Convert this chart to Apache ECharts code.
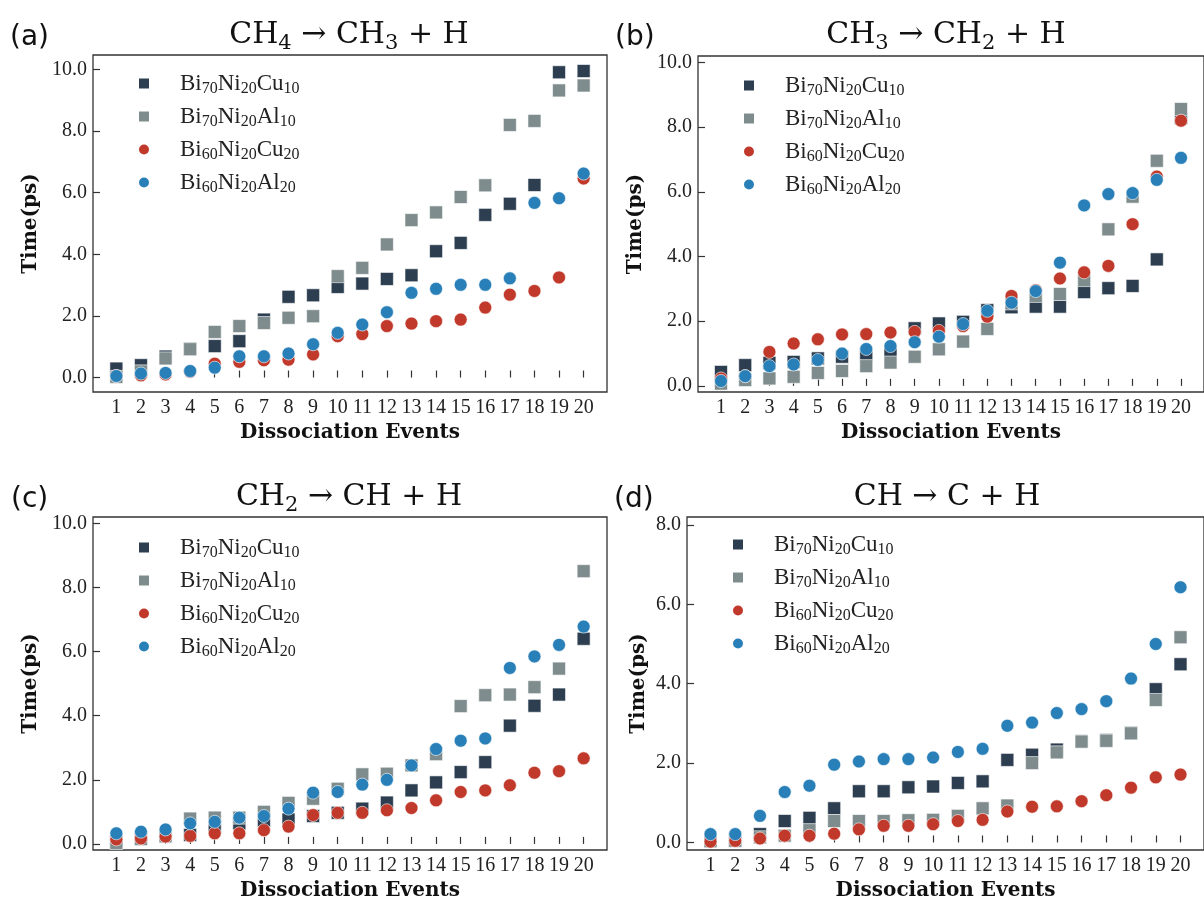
<!DOCTYPE html>
<html><head><meta charset="utf-8">
<script src="https://cdn.jsdelivr.net/npm/echarts@6/dist/echarts.min.js"></script>
<style>html,body{margin:0;padding:0;background:#fff}#c{width:1204px;height:902px}</style>
</head><body><div id="c"></div>
<script>
// ---- data ----
const events = [1,2,3,4,5,6,7,8,9,10,11,12,13,14,15,16,17,18,19,20];
const seriesNames = ['Bi70Ni20Cu10','Bi70Ni20Al10','Bi60Ni20Cu20','Bi60Ni20Al20'];
const panelLabels = ['(a)','(b)','(c)','(d)'];
const panelTitles = ['CH4 → CH3 + H','CH3 → CH2 + H','CH2 → CH + H','CH → C + H'];
const yTicksA = [0,2,4,6,8,10];
const yTicksB = [0,2,4,6,8,10];
const yTicksC = [0,2,4,6,8,10];
const yTicksD = [0,2,4,6,8];

const a_cu10 = [0.29,0.40,0.68,0.93,1.02,1.18,1.88,2.62,2.67,2.94,3.05,3.20,3.32,4.10,4.37,5.28,5.64,6.25,9.91,9.95];
const a_al10 = [0.02,0.20,0.62,0.92,1.48,1.67,1.77,1.94,1.99,3.29,3.56,4.32,5.11,5.36,5.86,6.24,8.20,8.33,9.32,9.48];
const a_cu20 = [0.05,0.07,0.10,0.19,0.45,0.51,0.56,0.58,0.75,1.34,1.41,1.67,1.75,1.83,1.88,2.27,2.69,2.81,3.25,6.46];
const a_al20 = [0.05,0.13,0.15,0.21,0.32,0.69,0.69,0.78,1.08,1.45,1.72,2.12,2.75,2.88,3.01,3.01,3.22,5.67,5.82,6.62];

const b_cu10 = [0.43,0.64,0.71,0.74,0.85,0.90,0.95,1.05,1.78,1.93,1.98,2.34,2.43,2.45,2.45,2.90,3.02,3.09,3.91,8.28];
const b_al10 = [0.07,0.18,0.23,0.28,0.40,0.46,0.61,0.72,0.90,1.13,1.37,1.76,2.55,2.78,2.84,3.27,4.84,5.85,6.96,8.56];
const b_cu20 = [0.23,0.30,1.05,1.31,1.44,1.59,1.60,1.65,1.67,1.70,1.85,2.14,2.78,2.96,3.32,3.51,3.71,5.00,6.47,8.20];
const b_al20 = [0.15,0.30,0.61,0.66,0.80,1.00,1.14,1.23,1.35,1.52,1.91,2.32,2.57,2.93,3.81,5.58,5.93,5.96,6.37,7.05];

const c_cu10 = [0.08,0.20,0.23,0.28,0.54,0.64,0.74,0.76,0.87,0.97,1.10,1.29,1.67,1.92,2.24,2.55,3.69,4.31,4.66,6.40];
const c_al10 = [0.03,0.15,0.25,0.79,0.82,0.82,1.00,1.28,1.41,1.72,2.17,2.19,2.45,2.80,4.30,4.64,4.66,4.89,5.47,8.51];
const c_cu20 = [0.14,0.17,0.23,0.25,0.33,0.33,0.43,0.54,0.90,0.97,0.97,1.05,1.12,1.36,1.62,1.67,1.83,2.22,2.27,2.67];
const c_al20 = [0.33,0.38,0.45,0.64,0.69,0.82,0.87,1.10,1.60,1.62,1.85,2.00,2.45,2.96,3.22,3.29,5.49,5.85,6.21,6.78];

const d_cu10 = [0.05,0.06,0.21,0.54,0.62,0.86,1.29,1.29,1.39,1.41,1.50,1.54,2.08,2.21,2.34,2.55,2.58,2.76,3.86,4.49];
const d_al10 = [0.03,0.04,0.13,0.17,0.31,0.54,0.54,0.54,0.56,0.57,0.67,0.86,0.93,2.00,2.27,2.54,2.56,2.75,3.59,5.17];
const d_cu20 = [0.02,0.04,0.10,0.17,0.17,0.22,0.33,0.42,0.42,0.46,0.54,0.57,0.78,0.90,0.91,1.04,1.19,1.38,1.64,1.71];
const d_al20 = [0.21,0.21,0.67,1.27,1.43,1.96,2.04,2.10,2.10,2.14,2.28,2.36,2.94,3.02,3.26,3.36,3.56,4.13,5.00,6.43];

// ---- styling / layout ----
const panelsData = [[a_cu10,a_al10,a_cu20,a_al20],[b_cu10,b_al10,b_cu20,b_al20],[c_cu10,c_al10,c_cu20,c_al20],[d_cu10,d_al10,d_cu20,d_al20]];
const yTicksAll = [yTicksA,yTicksB,yTicksC,yTicksD];
const colors = ['#2c3e50','#7f8c8d','#c0392b','#2980b9'];
const symbols = ['rect','rect','circle','circle'];
const grids = [
  {left:93, top:55, width:514, height:337},
  {left:698, top:56, width:513, height:336},
  {left:93, top:517, width:514, height:336},
  {left:687, top:517, width:525, height:336}
];
const yRanges = [[-0.47,10.47],[-0.19,10.2],[-0.19,10.2],[-0.19,8.2]];
const yNameGaps = [52,52,52,38];
const legendPos = [[132,67],[737,69],[132,531],[726,528]];
const titlePos = [[344,12],[941,12],[344,474],[942,474]];
const labelPos = [[5,19],[610,19],[6,481],[609,481]];

const serif = 'Liberation Serif';
const richSub = {
  m:{fontFamily:'DejaVu Serif', fontWeight:'normal', fontSize:30, color:'#111', lineHeight:37},
  s:{fontFamily:'DejaVu Serif', fontWeight:'normal', fontSize:21, color:'#111', lineHeight:22, verticalAlign:'bottom'}
};
function subFmt(str, big, small){
  return str.split(/(\d+)/).filter(t=>t.length).map(t=>/^\d+$/.test(t)?'{'+small+'|'+t+'}':'{'+big+'|'+t+'}').join('');
}
const nameStyle = {fontFamily:'DejaVu Serif', fontWeight:'bold', fontSize:20, color:'#111'};

const option = {
  backgroundColor:'#fff',
  animation:false,
  title:[],
  grid: grids.map(g=>Object.assign({show:true, borderColor:'#333', borderWidth:1.3, backgroundColor:'transparent'}, g)),
  xAxis: grids.map((g,i)=>({
    type:'value', gridIndex:i, min:0.05, max:20.95,
    splitLine:{show:false},
    axisLine:{show:false},
    axisTick:{show:true, inside:true, length:7, customValues:events, lineStyle:{color:'#333', width:1.2}},
    axisLabel:{customValues:events, margin:6, fontFamily:serif, fontSize:20, color:'#222'},
    name:'Dissociation Events', nameLocation:'middle', nameGap:31,
    nameTextStyle:nameStyle
  })),
  yAxis: grids.map((g,i)=>({
    type:'value', gridIndex:i, min:yRanges[i][0], max:yRanges[i][1],
    splitLine:{show:false},
    axisLine:{show:false},
    axisTick:{show:true, inside:true, length:7, customValues:yTicksAll[i], lineStyle:{color:'#333', width:1.2}},
    axisLabel:{customValues:yTicksAll[i], margin:6, fontFamily:serif, fontSize:20, color:'#222', formatter:v=>v.toFixed(1)},
    name:'Time(ps)', nameLocation:'middle', nameGap:yNameGaps[i], nameRotate:90,
    nameTextStyle:nameStyle
  })),
  legend: legendPos.map(p=>({
    data: seriesNames, orient:'vertical', left:p[0], top:p[1],
    itemWidth:12, itemHeight:12, itemGap:8.5, selectedMode:false,
    formatter: n => '{g|}' + subFmt(n,'n','s'),
    textStyle:{ rich:{
      g:{width:25},
      n:{fontFamily:serif, fontSize:23, color:'#222', lineHeight:26},
      s:{fontFamily:serif, fontSize:16, color:'#222', lineHeight:15, verticalAlign:'bottom'}
    }}
  })),
  series: []
};

panelTitles.forEach((t,i)=>{
  option.title.push({
    text: subFmt(t,'m','s'), left:titlePos[i][0], top:titlePos[i][1], textAlign:'center',
    textStyle:{fontWeight:'normal', rich:richSub}
  });
  option.title.push({
    text: panelLabels[i], left:labelPos[i][0], top:labelPos[i][1],
    textStyle:{fontFamily:'DejaVu Sans', fontSize:28, fontWeight:'normal', color:'#111'}
  });
});

panelsData.forEach((arrs,p)=>{
  arrs.forEach((arr,k)=>{
    option.series.push({
      type:'scatter', name:seriesNames[k], xAxisIndex:p, yAxisIndex:p,
      symbol:symbols[k], symbolSize:13,
      itemStyle:{color:colors[k], borderColor:'#fff', borderWidth:0.6, opacity:1},
      emphasis:{disabled:true},
      data: events.map((x,j)=>[x, arr[j]])
    });
  });
});

const chart = echarts.init(document.getElementById('c'), null, {renderer:'canvas'});
chart.setOption(option);
</script></body></html>
